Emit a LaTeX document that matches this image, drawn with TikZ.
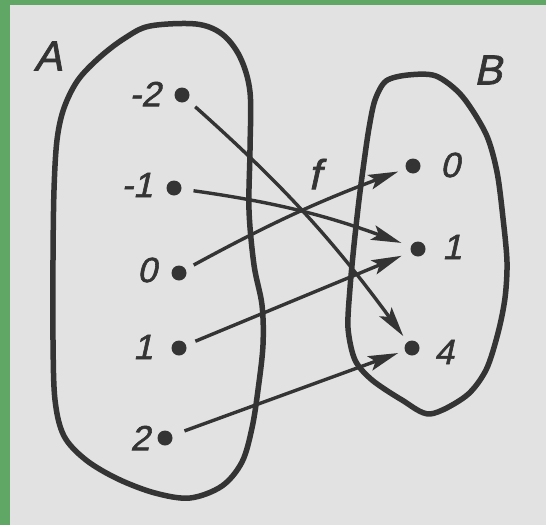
\documentclass[tikz,border=0pt]{standalone}
\usepackage{fontspec}
\newfontfamily\labfont[FakeSlant=0.22,FakeBold=1.6]{Liberation Sans}
\usetikzlibrary{arrows.meta}
\definecolor{bggreen}{RGB}{96,166,100}
\definecolor{paper}{RGB}{226,226,226}
\definecolor{ink}{RGB}{52,52,52}
\tikzset{
  dot/.style={circle,fill=ink,inner sep=0pt,minimum size=15pt},
  lab/.style={text=ink,inner sep=0pt,font=\labfont\fontsize{35}{35}\selectfont},
  setlab/.style={text=ink,inner sep=0pt,font=\labfont\fontsize{42}{42}\selectfont},
  outline/.style={draw=ink,line width=5.5pt,line join=round},
  maparrow/.style={draw=ink,line width=3.4pt,-{Stealth[length=30pt,width=15pt,inset=6pt]},shorten <=14pt,shorten >=11pt}
}
\begin{document}
\begin{tikzpicture}[x=1pt,y=-1pt]
\useasboundingbox (0,0) rectangle (546,525);
\fill[bggreen] (0,0) rectangle (546,525);
\fill[paper] (10,5) rectangle (546,525);
% set A
\draw[outline] plot[smooth cycle,tension=0.55] coordinates {
 (150,26) (196,24) (222,34) (240,57) (250,92) (250,150) (249,210) (254,265)
 (262,305) (263,345) (258,390) (252,428) (242,462) (222,486) (190,498)
 (155,493) (118,479) (86,460) (64,436) (55,400) (53,340) (53,260) (54,190)
 (57,140) (64,108) (78,80) (100,57) (125,38)};
% set B
\draw[outline] plot[smooth cycle,tension=0.5] coordinates {
 (386,81) (408,75) (436,76) (462,96) (486,134) (497,172) (503,218) (507,262)
 (505,298) (498,333) (486,370) (466,396) (430,414) (402,400) (372,380)
 (355,360) (348,328) (350,288) (354,245) (359,200) (364,162) (369,128) (375,100)};
% labels of sets
\node[setlab] (A) at (48,56) {A};
\node[setlab] (B) at (488,70) {B};
\node[setlab] (f) at (314,174) {f};
% elements of A
\node[dot] (am2) at (182,95) {};
\node[dot] (am1) at (174,188) {};
\node[dot] (a0) at (179,273) {};
\node[dot] (a1) at (179,348) {};
\node[dot] (a2) at (165,438) {};
\node[lab] (lm2) at (145,94) {-2};
\node[lab] (lm1) at (137,185) {-1};
\node[lab] (l0) at (147,270) {0};
\node[lab] (l1) at (143,347) {1};
\node[lab] (l2) at (140,438) {2};
% elements of B
\node[dot] (b0) at (413,166) {};
\node[dot] (b1) at (418,249) {};
\node[dot] (b4) at (412,348) {};
\node[lab] (lb0) at (450,165) {0};
\node[lab] (lb1) at (452,247) {1};
\node[lab] (lb4) at (444,352) {4};
% mapping f
\draw[maparrow,shorten <=10pt,shorten >=7pt] (am2) to[bend left=6] (b4);
\draw[maparrow,shorten <=12pt,shorten >=10pt] (am1) to[bend left=6] (b1);
\draw[maparrow,shorten <=9pt,shorten >=8pt] (a0) to[bend left=4] (b0);
\draw[maparrow,shorten <=10pt,shorten >=10pt] (a1) -- (b1);
\draw[maparrow,shorten <=13pt,shorten >=7pt] (a2) -- (b4);
\end{tikzpicture}
\end{document}
